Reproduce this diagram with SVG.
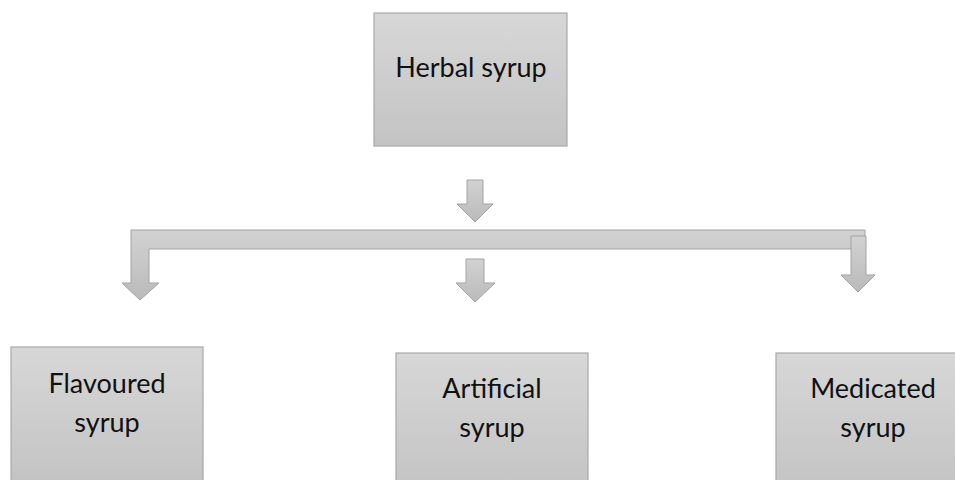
<svg xmlns="http://www.w3.org/2000/svg" width="955" height="480" viewBox="0 0 955 480">
<defs>
<linearGradient id="boxg" x1="0" y1="0" x2="0" y2="1">
<stop offset="0" stop-color="#d7d7d7"/>
<stop offset="1" stop-color="#c3c3c3"/>
</linearGradient>
<linearGradient id="arrg" x1="0" y1="0" x2="0" y2="1">
<stop offset="0" stop-color="#d2d2d2"/>
<stop offset="1" stop-color="#bababa"/>
</linearGradient>
</defs>
<style>
.box{fill:url(#boxg);stroke:#a9a9a9;stroke-width:1.2}
.arr{fill:url(#arrg);stroke:#a3a3a3;stroke-width:1}
.lbl{font-family:Lato,"Liberation Sans",sans-serif;font-size:27px;fill:#111;text-anchor:middle}
</style>
<rect width="955" height="480" fill="#fff"/>
<g id="connectors">
<path class="arr" d="M131,283 V230 H865 V249 H149 V283 H159 L140,300 L122,283 Z"/>
<path class="arr" d="M467,180 H483 V204 H493 L475,222 L457,204 H467 Z"/>
<path class="arr" d="M466,259 H484 V283 H495 L475,302 L456,283 H466 Z"/>
<path class="arr" d="M851,236 H866 V275 H875 L858,292 L841,275 H851 Z"/>
</g>
<g id="herbal">
<rect class="box" x="374" y="13" width="193" height="133"/>
<text class="lbl" x="471" y="77">Herbal syrup</text>
</g>
<g id="flavoured">
<rect class="box" x="11" y="347" width="192" height="140"/>
<text class="lbl" x="107" y="393">Flavoured</text>
<text class="lbl" x="107" y="432">syrup</text>
</g>
<g id="artificial">
<rect class="box" x="396" y="353" width="192" height="140"/>
<text class="lbl" x="492" y="398">Artificial</text>
<text class="lbl" x="492" y="437">syrup</text>
</g>
<g id="medicated">
<rect class="box" x="776" y="353" width="192" height="140"/>
<text class="lbl" x="873" y="398">Medicated</text>
<text class="lbl" x="873" y="437">syrup</text>
</g>
</svg>
